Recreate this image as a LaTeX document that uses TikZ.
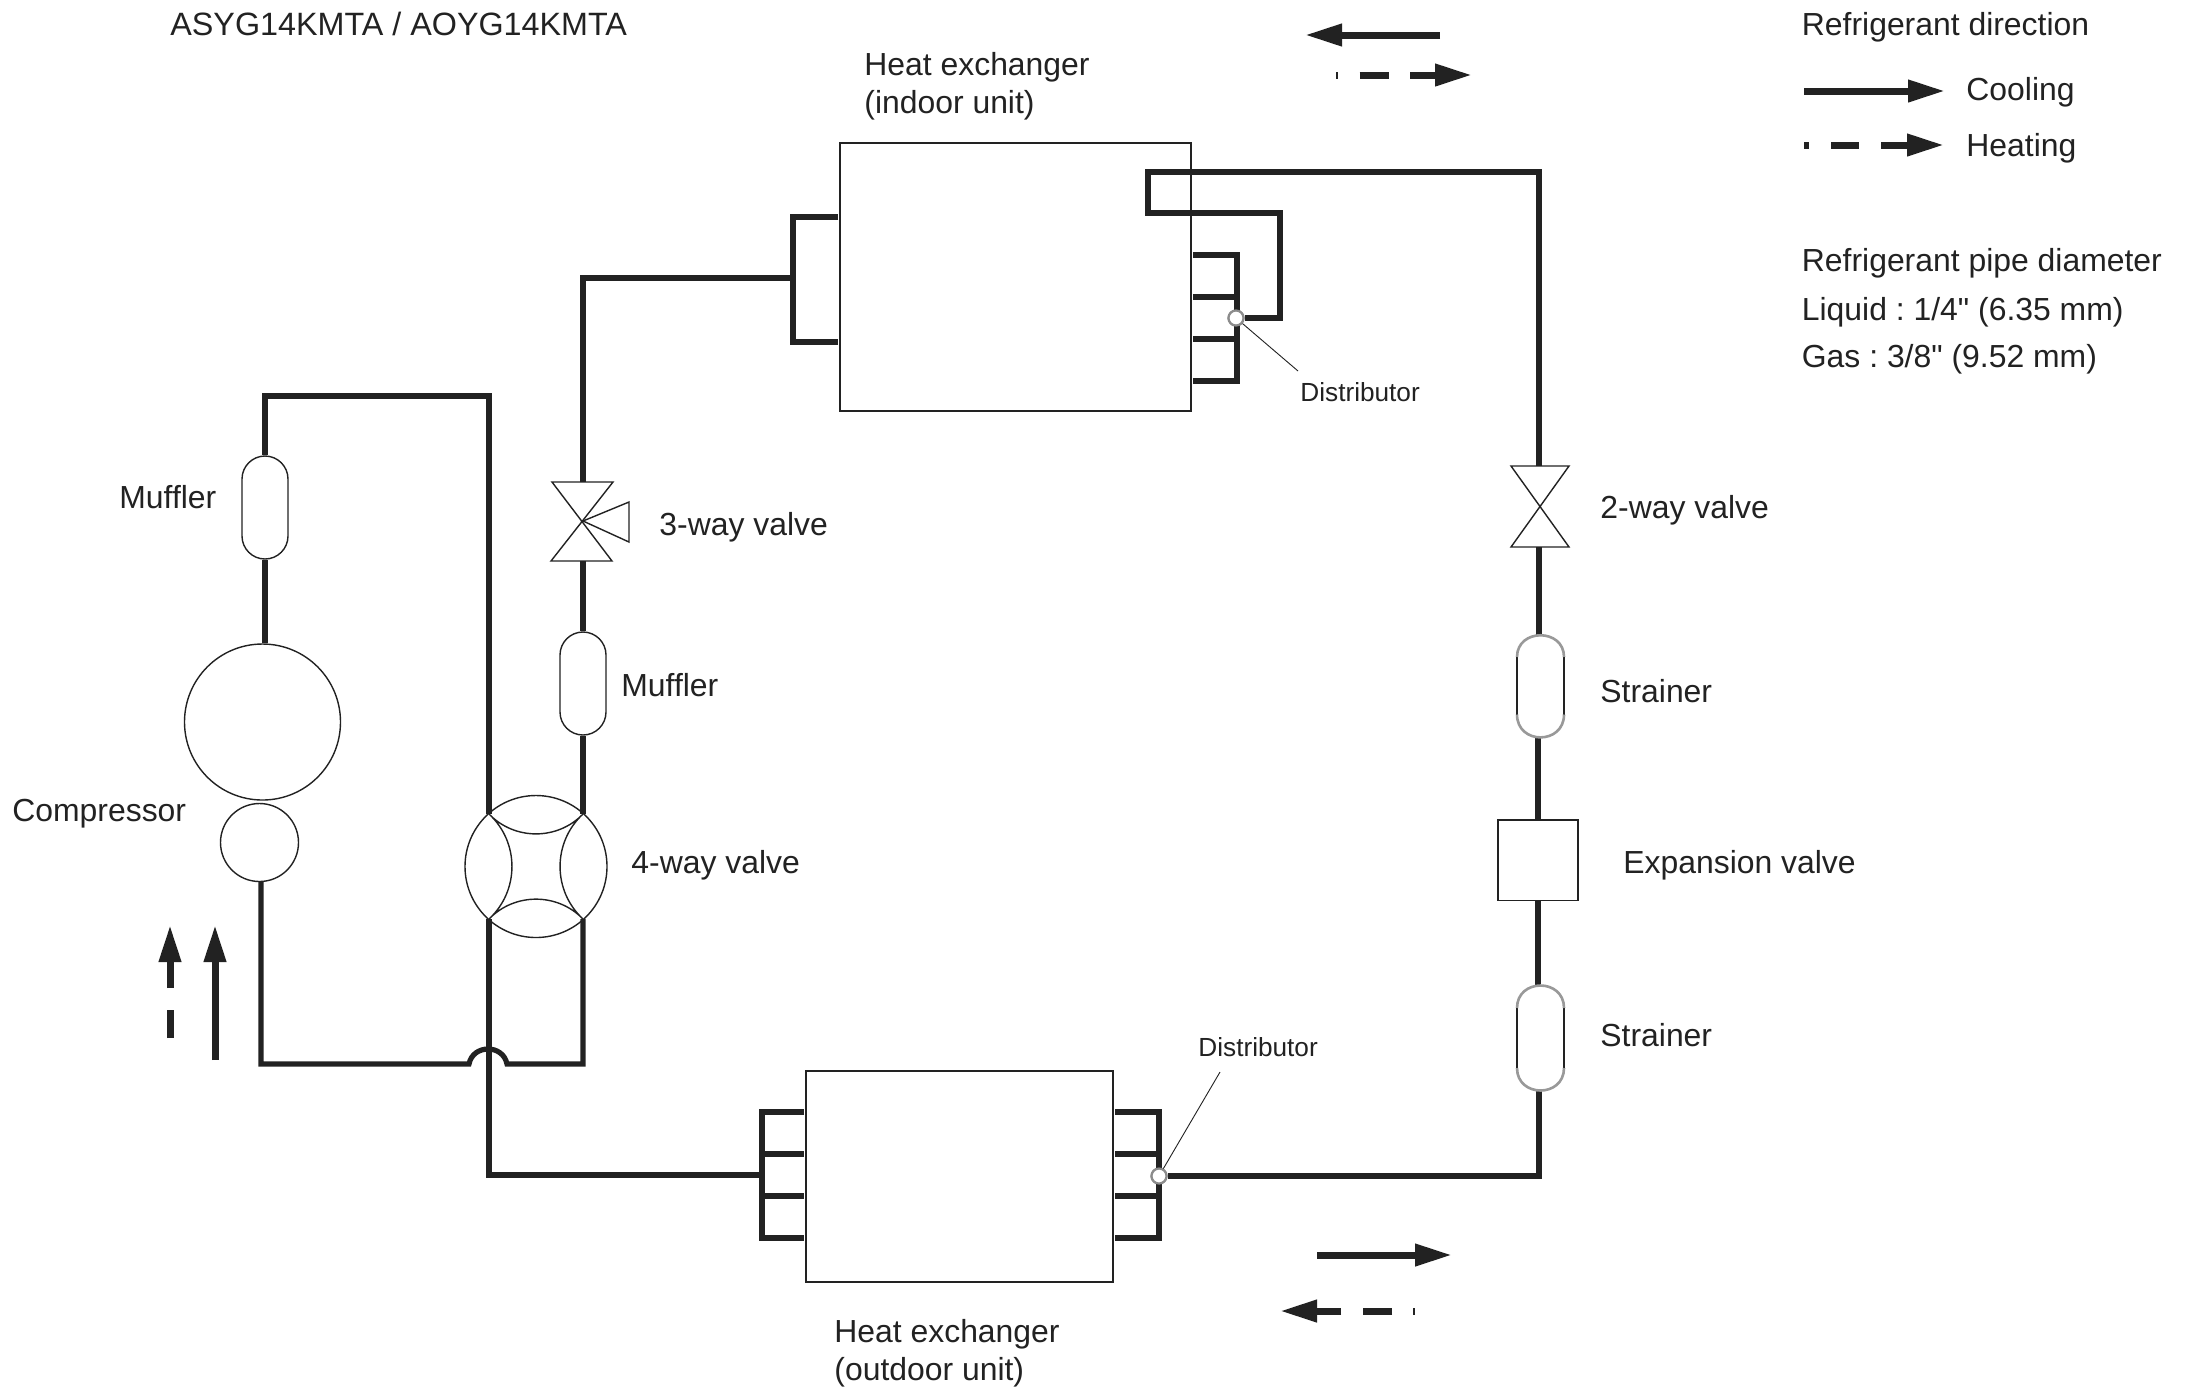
\documentclass[tikz,border=0pt]{standalone}
\usepackage{fontspec}
\setmainfont{Liberation Sans}
\newfontfamily\plainquote{Liberation Sans}
\usetikzlibrary{arrows.meta,shapes.misc}
\definecolor{ink}{HTML}{222222}
\tikzset{
  pipe/.style={draw=ink,line width=2.6pt},
  thinline/.style={draw=ink,line width=0.7pt},
  unitbox/.style={thinline,rectangle,inner sep=0pt},
  bulb/.style={thinline,rounded rectangle,rounded rectangle arc length=180,rotate=90,inner sep=0pt,fill=white},
  strainerbox/.style={rectangle,inner sep=0pt},
  ring/.style={thinline,circle,inner sep=0pt},
  dist/.style={draw=gray!90,line width=1.1pt,fill=white,circle,inner sep=0pt,minimum size=7.5pt},
  lab/.style={anchor=base west,inner sep=0pt,text=ink,font=\fontsize{15.95}{18}\selectfont},
  smalllab/.style={anchor=base west,inner sep=0pt,text=ink,font=\fontsize{13.1}{15}\selectfont},
  flow/.style={draw=ink,line width=3.5pt},
  flowhead/.style={flow,-{Triangle[length=18.5pt,width=10.5pt]}},
}
\frenchspacing
\begin{document}
\begin{tikzpicture}[x=0.5pt,y=-0.5pt]
\useasboundingbox (0,0) rectangle (2188,1389);
\fill[white] (0,0) rectangle (2188,1389);

% ---- named components
\node[unitbox,minimum width=175.5pt,minimum height=134pt] (hxi) at (1015.5,277) {};
\node[unitbox,minimum width=153.5pt,minimum height=105.5pt] (hxo) at (959.5,1176.5) {};
\node[bulb,minimum width=51.5pt,minimum height=23pt] (mufa) at (265,507.5) {};
\node[bulb,minimum width=51.5pt,minimum height=23pt] (mufb) at (583,683.5) {};
\node[ring,minimum size=78pt] (compa) at (262.5,722) {};
\node[ring,minimum size=39pt] (compb) at (259.5,842.5) {};
\node[ring,minimum size=71pt] (fv) at (536,866.5) {};
\node[unitbox,minimum width=40pt,minimum height=40.35pt] (exp) at (1538,860.35) {};
\node[strainerbox,minimum width=23.5pt,minimum height=51.5pt] (stra) at (1540.5,686.5) {};
\node[strainerbox,minimum width=23.5pt,minimum height=52.75pt] (strb) at (1540.5,1038.25) {};
\coordinate (vt) at (583,521);

% ---- way points
\coordinate (fvtl) at (489,814);
\coordinate (fvtr) at (583,814);
\coordinate (fvbl) at (489,919);
\coordinate (fvbr) at (583,919);
\coordinate (corna) at (489,396);
\coordinate (cornb) at (265,396);
\coordinate (cornc) at (261,1064);
\coordinate (humpa) at (469,1064);
\coordinate (humpb) at (507,1064);
\coordinate (cornd) at (583,1064);
\coordinate (corne) at (489,1175);
\coordinate (cornf) at (583,278);
\coordinate (vtop) at (583,482);
\coordinate (vbot) at (583,561);
\coordinate (wtop) at (1539,466);
\coordinate (wbot) at (1539,547);
\coordinate (cr) at (1539,172);
\coordinate (cs) at (1148,172);
\coordinate (ct) at (1148,213);
\coordinate (cu) at (1280,213);
\coordinate (cv) at (1280,318);
\coordinate (crb) at (1539,1176);

% ---- indoor heat exchanger headers
\node[dist] (disti) at (1236,318) {};
\draw[pipe] (1193,255) -- (1237,255) -- (1237,381) -- (1193,381);
\draw[pipe] (1193,297) -- (1237,297);
\draw[pipe] (1193,339) -- (1237,339);
\draw[pipe] (838,217) -- (793,217) -- (793,342) -- (838,342);
\draw[pipe] (793,278) -- (cornf) -- (vtop);
\draw[pipe] (disti) -- (cv) -- (cu) -- (ct) -- (cs) -- (cr) -- (wtop);
\node[dist] at (disti) {};

% ---- outdoor heat exchanger headers
\node[dist] (disto) at (1159,1176) {};
\draw[pipe] (804,1112) -- (762,1112) -- (762,1238) -- (804,1238);
\draw[pipe] (762,1154) -- (804,1154);
\draw[pipe] (762,1196) -- (804,1196);
\draw[pipe] (1115,1112) -- (1159,1112) -- (1159,1238) -- (1115,1238);
\draw[pipe] (1115,1154) -- (1159,1154);
\draw[pipe] (1115,1196) -- (1159,1196);
\draw[pipe] (disto) -- (crb) -- (strb.south -| crb);
\node[dist] at (disto) {};
\draw[pipe] (fvbl) -- (corne) -- (761,1175);

% ---- compressor loop
\draw[pipe] (fvtl) -- (corna) -- (cornb) -- (mufa.east);
\draw[pipe] (mufa.west) -- (compa.north -| mufa.west);
\draw[pipe] (compb.south -| cornc) -- (cornc) -- (humpa) .. controls (473,1044) and (503,1044) .. (humpb) -- (cornd) -- (fvbr);
\draw[pipe] (vbot) -- (mufb.east);
\draw[pipe] (mufb.west) -- (fvtr);

% ---- right leg
\draw[pipe] (wbot) -- (stra.north -| wbot);
\draw[pipe] (stra.south -| exp.north) -- (exp.north);
\draw[pipe] (exp.south) -- (strb.north -| exp.south);

% ---- strainers
\draw[thinline] (1517,657) -- (1517,714.5) (1564,657) -- (1564,714.5);
\draw[thinline] (1517,1008) -- (1517,1068) (1564,1008) -- (1564,1068);
\draw[draw=gray!80,line width=1.3pt]
  (1517,657) .. controls (1517,628) and (1564,628) .. (1564,657)
  (1517,714.5) .. controls (1517,745) and (1564,745) .. (1564,714.5)
  (1517,1008) .. controls (1517,978) and (1564,978) .. (1564,1008)
  (1517,1068) .. controls (1517,1098) and (1564,1098) .. (1564,1068);

% ---- valves
\draw[thinline] (552,482) -- (613,482) -- (551,561) -- (612,561) -- cycle;
\draw[thinline] (vt) -- (629,502) -- (629,542) -- cycle;
\draw[thinline] (1511,466) -- (1569,466) -- (1511,547) -- (1569,547) -- cycle;
\draw[thinline] (fvtl) .. controls (514.6,840.5) and (557.4,840.5) .. (fvtr)
  .. controls (552.4,842.3) and (552.4,890.7) .. (fvbr)
  .. controls (557.4,892.5) and (514.6,892.5) .. (fvbl)
  .. controls (519.6,890.7) and (519.6,842.3) .. (fvtl);

% ---- distributor leaders
\coordinate (ldi) at (1298,371);
\coordinate (ldo) at (1220,1072);
\draw[draw=ink,line width=0.45pt] (disti) -- (ldi);
\draw[draw=ink,line width=0.45pt] (disto) -- (ldo);

% ---- flow arrows
\coordinate (fa1) at (1440,35); \coordinate (fa2) at (1305,35);
\draw[flowhead] (fa1) -- (fa2);
\coordinate (fb0a) at (1336,75); \coordinate (fb0b) at (1338,75);
\coordinate (fb1a) at (1359.5,75); \coordinate (fb1b) at (1388.5,75);
\coordinate (fb2a) at (1410,75); \coordinate (fb2b) at (1472,75);
\draw[flow] (fb0a) -- (fb0b); \draw[flow] (fb1a) -- (fb1b); \draw[flowhead] (fb2a) -- (fb2b);

\coordinate (ga1) at (1317,1255); \coordinate (ga2) at (1452,1255);
\draw[flowhead] (ga1) -- (ga2);
\coordinate (gb0a) at (1413,1311); \coordinate (gb0b) at (1415,1311);
\coordinate (gb1a) at (1392,1311); \coordinate (gb1b) at (1363,1311);
\coordinate (gb2a) at (1341,1311); \coordinate (gb2b) at (1280,1311);
\draw[flow] (gb0a) -- (gb0b); \draw[flow] (gb1a) -- (gb1b); \draw[flowhead] (gb2a) -- (gb2b);

\coordinate (ha1) at (215,1060); \coordinate (ha2) at (215,925);
\draw[flowhead] (ha1) -- (ha2);
\coordinate (hb1a) at (170,1038); \coordinate (hb1b) at (170,1009.5);
\coordinate (hb2a) at (170,988); \coordinate (hb2b) at (170,925);
\draw[flow] (hb1a) -- (hb1b); \draw[flowhead] (hb2a) -- (hb2b);

\coordinate (la1) at (1804,91); \coordinate (la2) at (1945,91);
\draw[flowhead] (la1) -- (la2);
\coordinate (lb0a) at (1804,145); \coordinate (lb0b) at (1809,145);
\coordinate (lb1a) at (1831,145); \coordinate (lb1b) at (1859,145);
\coordinate (lb2a) at (1881,145); \coordinate (lb2b) at (1944,145);
\draw[flow] (lb0a) -- (lb0b); \draw[flow] (lb1a) -- (lb1b); \draw[flowhead] (lb2a) -- (lb2b);

% ---- labels
\node[lab,font=\fontsize{16.15}{18}\selectfont] (t1) at (170,35) {ASYG14KMTA / AOYG14KMTA};
\node[lab] (t2) at (1801.5,35) {Refrigerant direction};
\node[lab] (t3) at (1966,100.5) {Cooling};
\node[lab] (t4) at (1966,156.5) {Heating};
\node[lab] (t5) at (1801.5,271) {Refrigerant pipe diameter};
\node[lab] (t6) at (1801.5,320) {Liquid : 1/4{\plainquote "} (6.35 mm)};
\node[lab] (t7) at (1801.5,367) {Gas : 3/8{\plainquote "} (9.52 mm)};
\node[lab] (t8) at (864,75) {Heat exchanger};
\node[lab] (t9) at (864,113) {(indoor unit)};
\node[lab] (t10) at (119,508) {Muffler};
\node[lab] (t11) at (659,535) {3-way valve};
\node[lab] (t12) at (621,696) {Muffler};
\node[lab] (t13) at (12,821) {Compressor};
\node[lab] (t14) at (631,873) {4-way valve};
\node[lab] (t15) at (1600,518) {2-way valve};
\node[lab] (t16) at (1600,702) {Strainer};
\node[lab] (t17) at (1623,873) {Expansion valve};
\node[lab] (t18) at (1600,1046) {Strainer};
\node[lab] (t19) at (834,1342) {Heat exchanger};
\node[lab] (t20) at (834,1380) {(outdoor unit)};
\node[smalllab] (t21) at (1300,401) {Distributor};
\node[smalllab] (t22) at (1198,1056) {Distributor};
\end{tikzpicture}
\end{document}
